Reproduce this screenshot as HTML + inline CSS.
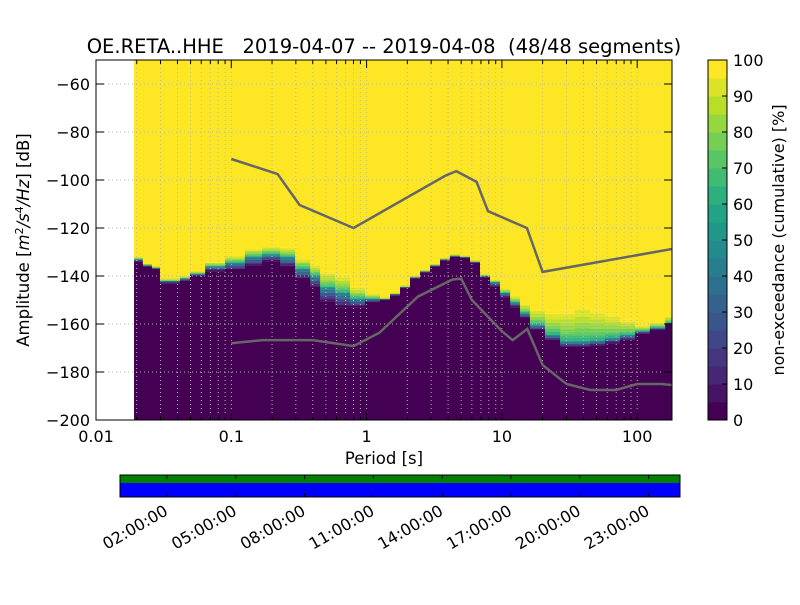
<!DOCTYPE html>
<html><head><meta charset="utf-8"><style>
html,body{margin:0;padding:0;background:#fff;}
svg text{font-family:"DejaVu Sans","Liberation Sans",sans-serif;fill:#000;}
</style></head><body>
<svg id="chart" width="800" height="600" xmlns="http://www.w3.org/2000/svg">
<text x="384" y="53" font-size="19.5" text-anchor="middle" xml:space="preserve">OE.RETA..HHE   2019-04-07 -- 2019-04-08  (48/48 segments)</text>
<g id="plot"></g>
<text x="384" y="464" font-size="16.5" text-anchor="middle">Period [s]</text>
<text transform="translate(29,240) rotate(-90)" font-size="16.5" text-anchor="middle">Amplitude [<tspan font-style="italic">m</tspan><tspan font-size="11" dy="-6">2</tspan><tspan dy="6" font-style="italic">/s</tspan><tspan font-size="11" dy="-6">4</tspan><tspan dy="6" font-style="italic">/Hz</tspan>] [dB]</text>
<g id="cbar"></g>
<text transform="translate(784,240) rotate(-90)" font-size="16" text-anchor="middle">non-exceedance (cumulative) [%]</text>
<g id="tbar"></g>
</svg>
<script>
const periods=[0.0191,0.0222,0.0259,0.0297,0.0418,0.0495,0.064,0.0898,0.126,0.169,0.229,0.296,0.382,0.453,0.584,0.754,0.973,1.256,1.489,1.766,2.094,2.483,2.944,3.49,4.13,4.9,5.81,6.89,8.17,9.68,11.5,13.6,16.1,20.8,26.9,34.7,44.8,57.8,74.6,96.4,124,161];
const p100=[-132,-134.6,-136,-141,-140,-138,-134,-131,-128,-127,-127.5,-132,-134.6,-137.5,-139,-144,-147,-149,-147,-144,-140,-137.5,-135,-132.5,-131,-131.5,-133.5,-139,-141.5,-145,-148,-151,-153,-154,-153,-151,-153,-155,-157.5,-160.4,-159,-156.7];
const p50=[-133,-135.5,-136.5,-142,-141,-139,-136,-134.5,-132,-131,-132,-137,-140,-145,-147,-149.5,-149.5,-149.5,-147.5,-144.5,-140.5,-138,-135.5,-133,-131.5,-132,-134,-140,-142.5,-147,-151,-155.5,-160.5,-164.7,-167.5,-167.5,-167,-166,-164.7,-163,-161.5,-159.5];
const p0=[-134,-136,-137,-143,-142,-140,-138,-137.5,-136,-134,-136.5,-141.5,-145,-151,-153,-153,-151,-150,-148,-145,-141,-138.5,-136,-133.5,-132,-132.5,-134.5,-140.5,-144.5,-149,-153,-157.5,-162.5,-166.7,-169.5,-169.5,-169,-168,-166.7,-164,-162.5,-160.4];
const hnmP=[0.1,0.22,0.32,0.8,3.8,4.6,6.5,7.9,15.3,20,181];
const hnmDb=[-91.25,-97.5,-110.4,-120,-98.3,-96.3,-100.8,-113,-120,-138.3,-128.75];
const lnmP=[0.1,0.17,0.4,0.8,1.24,2.4,4.3,5.0,6.0,7.9,10,12,15.4,20,30,45,70,100,150,181];
const lnmDb=[-168,-166.7,-166.7,-169.2,-163.7,-148.6,-141.5,-141.1,-150,-157,-163,-166.7,-162.1,-177.1,-185,-187.5,-187.5,-185,-185,-185.4];
const xTicks=[0.01,0.1,1,10,100];
const xTickLabels=["0.01","0.1","1","10","100"];
const yTicks=[-60,-80,-100,-120,-140,-160,-180,-200];
const cbTicks=[0,10,20,30,40,50,60,70,80,90,100];
const timeTickLabels=["02:00:00","05:00:00","08:00:00","11:00:00","14:00:00","17:00:00","20:00:00","23:00:00"];
const timeTickHours=[2,5,8,11,14,17,20,23];

const NS="http://www.w3.org/2000/svg";
const X0=96,X1=672,Y0=60,Y1=420;
const xs=p=>X0+(Math.log10(p)+2)*135.3;
const ys=d=>Y0+(-50-d)*2.4;
const pMax=Math.pow(10,(X1-X0)/135.3-2);
function mk(tag,attrs,parent){const e=document.createElementNS(NS,tag);for(const k in attrs)e.setAttribute(k,attrs[k]);parent.appendChild(e);return e;}
const V=[[68,1,84],[72,36,117],[65,68,135],[53,95,141],[42,120,142],[33,145,140],[34,168,132],[68,191,112],[122,209,81],[189,223,38],[253,231,37]];
function vir(t){t=Math.max(0,Math.min(1,t));const f=t*10,i=Math.min(9,Math.floor(f)),r=f-i;const c=V[i].map((v,k)=>Math.round(v+(V[i+1][k]-v)*r));return `rgb(${c[0]},${c[1]},${c[2]})`;}
function qcol(pct){const lv=Math.min(19,Math.floor(pct/5));return vir(lv/19);}

const plot=document.getElementById('plot');
mk('defs',{},plot).innerHTML='<clipPath id="pc"><rect x="96" y="60" width="576" height="360"/></clipPath>';
const img=mk('g',{'clip-path':'url(#pc)'},plot);


for(let i=0;i<periods.length;i++){
  const xa=xs(periods[i]),xb=i+1<periods.length?xs(periods[i+1]):X1+1;
  const w=xb-xa+0.5;
  const col=mk('g',{},img);
  
  
  mk('rect',{x:xa,y:Y0,width:w,height:ys(p100[i])-Y0+0.5,fill:qcol(100)},col);
  mk('rect',{x:xa,y:ys(p0[i]),width:w,height:Y1-ys(p0[i])+1,fill:qcol(0)},col);
  for(let d=Math.floor(p0[i]);d<Math.ceil(p100[i]);d+=0.5){
    const mid=d+0.25;let pct;
    if(mid<=p0[i])pct=0;else if(mid>=p100[i])pct=100;
    else if(mid<p50[i])pct=50*(mid-p0[i])/(p50[i]-p0[i]);
    else pct=50+50*Math.sqrt((mid-p50[i])/(p100[i]-p50[i]));
    mk('rect',{x:xa,y:ys(d+0.5),width:w,height:1.3,fill:qcol(pct)},col);
  }
}
const grid=mk('g',{stroke:'#b8b8b8','stroke-width':1,'stroke-dasharray':'1,3'},plot);


for(let e=-2;e<=2;e++)for(let m=1;m<10;m++){const p=m*Math.pow(10,e);if(p>pMax)continue;const x=xs(p);if(x<=X0+1)continue;mk('line',{x1:x,x2:x,y1:Y0,y2:Y1},grid);}
yTicks.forEach(t=>{const y=ys(t);if(y<Y1-1)mk('line',{x1:X0,x2:X1,y1:y,y2:y},grid);});
function line(P,D,name){const pts=P.map((p,i)=>xs(p).toFixed(1)+','+ys(D[i]).toFixed(1)).join(' ');const l=mk('polyline',{points:pts,fill:'none',stroke:'#666','stroke-width':2.5,'clip-path':'url(#pc)'},plot);}
line(hnmP,hnmDb,'high-noise-model-line');
line(lnmP,lnmDb,'low-noise-model-line');
const ax=mk('g',{stroke:'#000','stroke-width':1},plot);


mk('rect',{x:X0,y:Y0,width:X1-X0,height:Y1-Y0,fill:'none'},ax);
for(let e=-2;e<=2;e++)for(let m=1;m<10;m++){const p=m*Math.pow(10,e);if(p>pMax)continue;const x=xs(p),L=m==1?8:4;mk('line',{x1:x,x2:x,y1:Y1,y2:Y1-L},ax);mk('line',{x1:x,x2:x,y1:Y0,y2:Y0+L},ax);}
yTicks.forEach(t=>{const y=ys(t);mk('line',{x1:X0,x2:X0+8,y1:y,y2:y},ax);mk('line',{x1:X1,x2:X1-8,y1:y,y2:y},ax);});
xTicks.forEach((t,i)=>{const tx=mk('text',{x:xs(t),y:442,'font-size':16,'text-anchor':'middle'},plot);tx.textContent=xTickLabels[i];});
yTicks.forEach(t=>{const tx=mk('text',{x:90,y:ys(t)+6,'font-size':16,'text-anchor':'end'},plot);tx.textContent=String(t).replace('-','\u2212');});
const cb=document.getElementById('cbar');const CX=708,CW=19;
for(let l=0;l<20;l++){const r=mk('rect',{x:CX,y:Y1-(l+1)*18,width:CW,height:18.5,fill:vir(l/19)},cb);}
mk('rect',{x:CX,y:Y0,width:CW,height:360,fill:'none',stroke:'#000'},cb);
cbTicks.forEach(t=>{const y=Y1-t*3.6;mk('line',{x1:CX+CW-5,x2:CX+CW,y1:y,y2:y,stroke:'#000'},cb);const tx=mk('text',{x:CX+CW+6,y:y+6,'font-size':16},cb);tx.textContent=t;});
const tb=document.getElementById('tbar');const TX0=120,TX1=680,TY0=475,TY1=497;
mk('rect',{x:TX0,y:TY0,width:TX1-TX0,height:8,fill:'#008000'},tb);
mk('rect',{x:TX0,y:TY0+8,width:TX1-TX0,height:TY1-TY0-8,fill:'#0000ff'},tb);
mk('rect',{x:TX0,y:TY0,width:TX1-TX0,height:TY1-TY0,fill:'none',stroke:'#000'},tb);
const hx=h=>167+(h-2)*68.8/3;
timeTickHours.forEach((h,i)=>{const x=hx(h);mk('line',{x1:x,x2:x,y1:TY0,y2:TY0+4,stroke:'#000'},tb);mk('line',{x1:x,x2:x,y1:TY1,y2:TY1-4,stroke:'#000'},tb);
const tx=mk('text',{transform:`translate(${x+2},${TY1+17}) rotate(-30)`,'font-size':16,'text-anchor':'end',y:0},tb);tx.textContent=timeTickLabels[i];});
</script>
</body></html>
